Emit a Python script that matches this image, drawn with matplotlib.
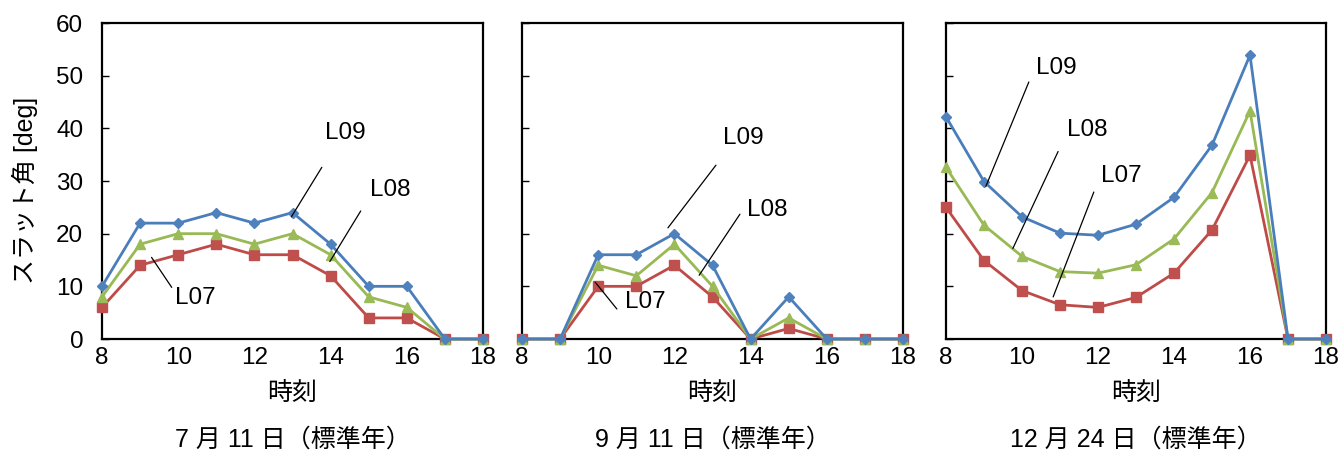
import matplotlib
matplotlib.use("Agg")
import matplotlib.pyplot as plt

plt.rcParams['font.family'] = ['Liberation Sans', 'Noto Sans CJK JP', 'DejaVu Sans']

hours = [8, 9, 10, 11, 12, 13, 14, 15, 16, 17, 18]

# Slat angle [deg] per louvre, 7/11
jul_L07 = [6, 14, 16, 18, 16, 16, 12, 4, 4, 0, 0]
jul_L08 = [8, 18, 20, 20, 18, 20, 16, 8, 6, 0, 0]
jul_L09 = [10, 22, 22, 24, 22, 24, 18, 10, 10, 0, 0]

# 9/11
sep_L07 = [0, 0, 10, 10, 14, 8, 0, 2, 0, 0, 0]
sep_L08 = [0, 0, 14, 12, 18, 10, 0, 4, 0, 0, 0]
sep_L09 = [0, 0, 16, 16, 20, 14, 0, 8, 0, 0, 0]

# 12/24
dec_L07 = [25.0, 14.9, 9.2, 6.5, 6.0, 7.9, 12.5, 20.7, 34.9, 0, 0]
dec_L08 = [32.6, 21.6, 15.7, 12.8, 12.5, 14.1, 19.0, 27.8, 43.3, 0, 0]
dec_L09 = [42.2, 29.9, 23.2, 20.1, 19.7, 21.8, 26.9, 36.8, 53.9, 0, 0]

series_names = ["L07", "L08", "L09"]
titles = ["7 月 11 日（標準年）", "9 月 11 日（標準年）", "12 月 24 日（標準年）"]
panels = [
    [jul_L07, jul_L08, jul_L09],
    [sep_L07, sep_L08, sep_L09],
    [dec_L07, dec_L08, dec_L09],
]

x_ticks = [8, 10, 12, 14, 16, 18]
y_ticks = [0, 10, 20, 30, 40, 50, 60]

styles = {
    "L07": dict(color="#BE4B48", marker="s", markersize=6.8, mfc="#C0504D", mec="#C0504D"),
    "L08": dict(color="#98B954", marker="^", markersize=7.5, mfc="#9BBB59", mec="#9BBB59"),
    "L09": dict(color="#4A7EBB", marker="D", markersize=5.5, mfc="#4F81BD", mec="#4F81BD"),
}

# Leader-line annotations: (name, text pos, line start, line end) in data coords
callouts = [
    [("L09", (14.38, 39.1), (13.77, 32.6), (12.97, 23.2)),
     ("L08", (15.56, 28.3), (14.79, 24.3), (13.98, 14.7)),
     ("L07", (10.44, 7.8), (9.83, 9.8), (9.30, 15.5))],
    [("L09", (13.80, 38.1), (13.09, 33.0), (11.83, 21.1)),
     ("L08", (14.43, 24.5), (13.72, 23.7), (12.65, 12.1)),
     ("L07", (11.23, 7.0), (10.49, 5.7), (9.92, 10.8))],
    [("L09", (10.89, 51.4), (10.18, 48.8), (9.05, 29.0)),
     ("L08", (11.71, 39.6), (10.95, 35.6), (9.76, 17.2)),
     ("L07", (12.61, 30.9), (11.89, 27.9), (10.82, 8.0))],
]

W, H = 1338, 455
fig = plt.figure(figsize=(W / 100, H / 100), dpi=100)

lefts = [102, 522, 946]
widths = [381, 381, 380]
top_px, bottom_px = 23, 339

for i, (data, title, notes) in enumerate(zip(panels, titles, callouts)):
    ax = fig.add_axes([lefts[i] / W, 1 - bottom_px / H, widths[i] / W,
                       (bottom_px - top_px) / H])
    for name, vals in zip(series_names, data):
        ax.plot(hours, vals, lw=2.0, clip_on=False, zorder=3, **styles[name])
    ax.set_xlim(8, 18)
    ax.set_ylim(0, 60)
    ax.set_xticks(x_ticks)
    ax.set_yticks(y_ticks)
    ax.tick_params(axis="both", direction="in", length=5, width=1,
                   labelsize=17.5)
    ax.tick_params(axis="x", pad=6, length=0)
    ax.tick_params(axis="y", pad=13.5)
    if i > 0:
        ax.set_yticklabels([])
    for sp in ax.spines.values():
        sp.set_linewidth(1.6)
        sp.set_color("black")
    for name, tpos, p0, p1 in notes:
        ax.annotate("", xy=p1, xytext=p0,
                    arrowprops=dict(arrowstyle="-", lw=0.9, color="black",
                                    shrinkA=0, shrinkB=0))
        ax.text(tpos[0], tpos[1], name, fontsize=17.5, ha="center",
                va="center")
    cx = (lefts[i] + widths[i] / 2) / W
    fig.text(cx, 1 - 393 / H, "時刻", fontsize=18, ha="center", va="center")
    fig.text(cx, 1 - 440 / H, title, fontsize=18, ha="center", va="center")

fig.text(25 / W, 1 - 190 / H, "スラット角 [deg]", fontsize=18, rotation=90,
         ha="center", va="center")

fig.savefig("out.png", dpi=100)
